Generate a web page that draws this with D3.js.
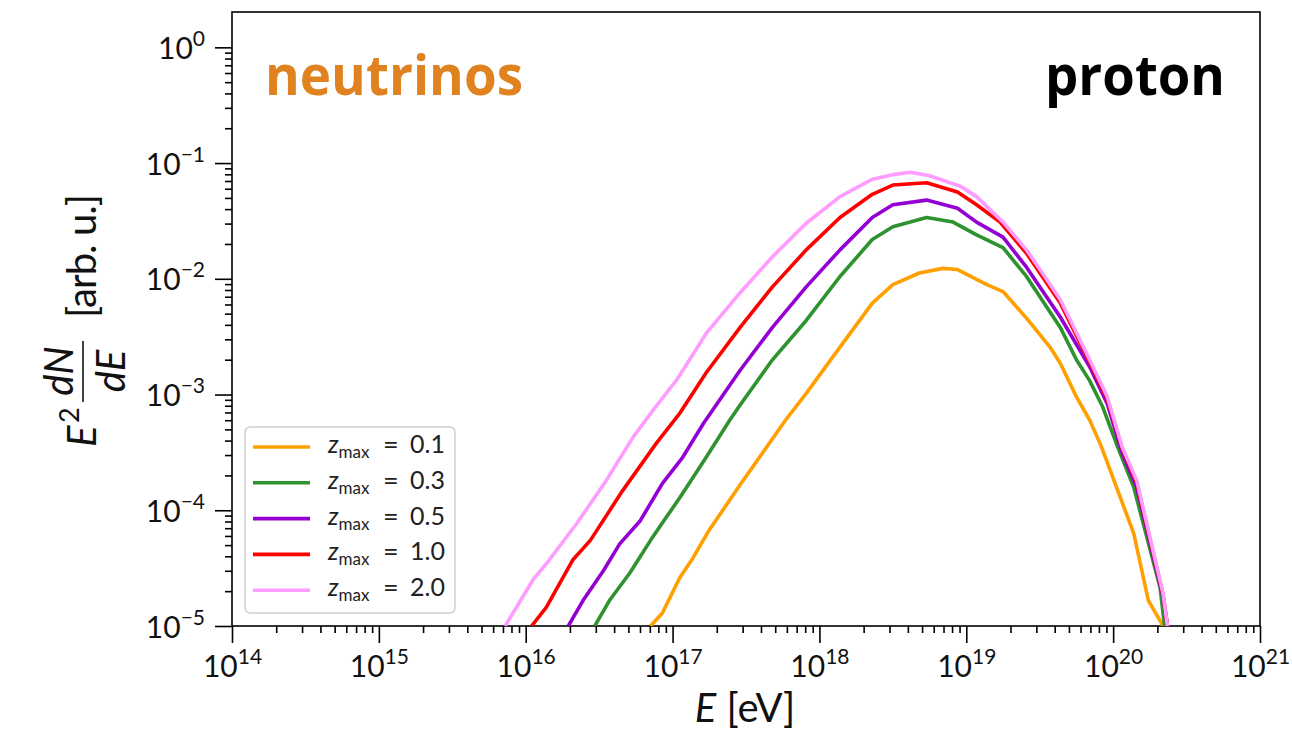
<!DOCTYPE html>
<html>
<head>
<meta charset="utf-8">
<script src="https://cdn.jsdelivr.net/npm/d3@7"></script>
<style>
  body { margin: 0; background: #fff; }
  svg { display: block; }
</style>
</head>
<body>
<div id="chart"></div>
<script>
// Values, stored as log10(E / eV) and log10(E^2 dN/dE)
const zLabels = ["0.1", "0.3", "0.5", "1.0", "2.0"];
const colors = ["#ffa000", "#2e922e", "#9400d3", "#ff0000", "#ff9cff"];

const logE_z01 = [16.85, 16.93, 17.05, 17.14, 17.25, 17.46, 17.77, 17.91, 18.14, 18.36, 18.50, 18.68, 18.84, 18.94, 19.14, 19.25, 19.41, 19.57, 19.64, 19.75, 19.84, 19.92, 20.14, 20.24, 20.34];
const logF_z01 = [-5.0, -4.89, -4.58, -4.41, -4.17, -3.78, -3.22, -2.99, -2.59, -2.21, -2.05, -1.95, -1.91, -1.92, -2.05, -2.11, -2.34, -2.59, -2.73, -3.02, -3.22, -3.45, -4.20, -4.78, -5.0];

const logE_z03 = [16.47, 16.57, 16.71, 16.85, 16.93, 17.05, 17.23, 17.39, 17.46, 17.68, 17.91, 18.14, 18.36, 18.50, 18.73, 18.91, 19.07, 19.25, 19.41, 19.64, 19.75, 19.84, 19.93, 20.03, 20.14, 20.32, 20.35];
const logF_z03 = [-5.0, -4.78, -4.54, -4.26, -4.11, -3.89, -3.54, -3.22, -3.09, -2.70, -2.36, -1.98, -1.66, -1.55, -1.47, -1.51, -1.62, -1.73, -1.98, -2.42, -2.70, -2.88, -3.11, -3.45, -3.80, -4.67, -5.0];

const logE_z05 = [16.29, 16.39, 16.53, 16.64, 16.78, 16.93, 17.07, 17.21, 17.46, 17.68, 17.91, 18.14, 18.36, 18.50, 18.73, 18.94, 19.07, 19.25, 19.41, 19.64, 19.84, 19.96, 20.06, 20.16, 20.34, 20.37];
const logF_z05 = [-5.0, -4.78, -4.52, -4.29, -4.09, -3.77, -3.54, -3.25, -2.79, -2.42, -2.07, -1.75, -1.47, -1.36, -1.32, -1.39, -1.51, -1.64, -1.90, -2.33, -2.76, -3.08, -3.50, -3.80, -4.75, -5.0];

const logE_z10 = [16.04, 16.14, 16.32, 16.44, 16.66, 16.89, 17.05, 17.23, 17.46, 17.68, 17.91, 18.14, 18.36, 18.50, 18.73, 18.94, 19.07, 19.23, 19.41, 19.64, 19.84, 19.96, 20.06, 20.16, 20.34, 20.37];
const logF_z10 = [-5.0, -4.84, -4.43, -4.26, -3.83, -3.42, -3.16, -2.81, -2.42, -2.07, -1.75, -1.47, -1.27, -1.19, -1.17, -1.25, -1.36, -1.51, -1.78, -2.21, -2.72, -3.04, -3.46, -3.76, -4.73, -5.0];

const logE_z20 = [15.86, 16.05, 16.16, 16.35, 16.55, 16.73, 16.87, 17.03, 17.23, 17.46, 17.68, 17.91, 18.14, 18.36, 18.50, 18.62, 18.75, 18.96, 19.07, 19.25, 19.41, 19.55, 19.64, 19.84, 19.96, 20.06, 20.16, 20.34, 20.37];
const logF_z20 = [-5.0, -4.60, -4.43, -4.11, -3.74, -3.37, -3.13, -2.87, -2.47, -2.12, -1.81, -1.52, -1.29, -1.14, -1.10, -1.08, -1.11, -1.20, -1.29, -1.51, -1.75, -2.01, -2.18, -2.70, -3.02, -3.45, -3.74, -4.72, -5.0];

const xDecades = [14, 15, 16, 17, 18, 19, 20, 21];
const yDecades = [-5, -4, -3, -2, -1, 0];

const seriesE = [logE_z01, logE_z03, logE_z05, logE_z10, logE_z20];
const seriesF = [logF_z01, logF_z03, logF_z05, logF_z10, logF_z20];

let series = zLabels.map((z, i) => ({
    z: z,
    color: colors[i],
    points: seriesE[i].map((e, j) => ({ E: Math.pow(10, e), F: Math.pow(10, seriesF[i][j]) }))
}));

let fullWidth = 1292, fullHeight = 736;
let margin = { top: 12, right: 32, bottom: 110, left: 232 };
let width = fullWidth - margin.left - margin.right;
let height = fullHeight - margin.top - margin.bottom;

const tickFont = "Lato, 'DejaVu Sans', sans-serif";

let svg = d3.select("#chart")
    .append("svg")
    .attr("width", fullWidth)
    .attr("height", fullHeight);

let chartGroup = svg.append("g")
    .attr("transform", `translate(${margin.left},${margin.top})`);

// thang đo log cho cả 2 trục
let x = d3.scaleLog().domain([1e14, 1e21]).range([0, width]);
let y = d3.scaleLog().domain([1e-5, 2.02]).range([height, 0]);

let expText = d => String(Math.round(Math.log10(d))).replace("-", "\u2212");

// minor ticks
let xMinor = [];
xDecades.slice(0, -1).forEach(k => { for (let m = 2; m <= 9; m++) xMinor.push(m * Math.pow(10, k)); });
let yMinor = [];
yDecades.forEach(k => { for (let m = 2; m <= 9; m++) { let v = m * Math.pow(10, k); if (v < 2.0) yMinor.push(v); } });

// trục X
let gx = chartGroup.append("g")
    .attr("transform", `translate(0,${height})`)
    .call(d3.axisBottom(x).tickValues(xDecades.map(k => Math.pow(10, k))).tickSize(17).tickFormat(""));
chartGroup.append("g")
    .attr("transform", `translate(0,${height})`)
    .call(d3.axisBottom(x).tickValues(xMinor).tickSize(7).tickFormat(""));

gx.selectAll(".tick").append("text")
    .attr("y", 51)
    .attr("text-anchor", "middle")
    .attr("fill", "#111")
    .style("font-family", tickFont)
    .style("font-size", "30px")
    .each(function(d) {
        let t = d3.select(this);
        t.append("tspan").text("10");
        t.append("tspan").attr("dy", -13).style("font-size", "21px").text(expText(d));
    });

// trục Y
let gy = chartGroup.append("g")
    .call(d3.axisLeft(y).tickValues(yDecades.map(k => Math.pow(10, k))).tickSize(17).tickFormat(""));
chartGroup.append("g")
    .call(d3.axisLeft(y).tickValues(yMinor).tickSize(7).tickFormat(""));

gy.selectAll(".tick").append("text")
    .attr("x", -27)
    .attr("y", 11)
    .attr("text-anchor", "end")
    .attr("fill", "#111")
    .style("font-family", tickFont)
    .style("font-size", "30px")
    .each(function(d) {
        let t = d3.select(this);
        t.append("tspan").text("10");
        t.append("tspan").attr("dy", -13).style("font-size", "21px").text(expText(d));
    });

chartGroup.selectAll(".tick line").attr("stroke", "#000").attr("stroke-width", 1.6);
chartGroup.selectAll(".domain").remove();

// khung
chartGroup.append("rect")
    .attr("width", width)
    .attr("height", height)
    .attr("fill", "none")
    .attr("stroke", "#000")
    .attr("stroke-width", 1.6);

// clip
svg.append("defs").append("clipPath").attr("id", "plotclip")
    .append("rect").attr("width", width).attr("height", height);

let line = d3.line()
    .x(d => x(d.E))
    .y(d => y(d.F));

chartGroup.append("g")
    .attr("clip-path", "url(#plotclip)")
    .selectAll(".curve")
    .data(series)
    .enter()
    .append("path")
    .attr("class", "curve")
    .attr("d", d => line(d.points))
    .attr("fill", "none")
    .attr("stroke", d => d.color)
    .attr("stroke-width", 3.6)
    .attr("stroke-linejoin", "round");

// legend
let legend = chartGroup.append("g").attr("transform", "translate(13,415)");
legend.append("rect")
    .attr("width", 210)
    .attr("height", 186)
    .attr("rx", 5)
    .attr("fill", "#fff")
    .attr("fill-opacity", 0.85)
    .attr("stroke", "#d0d0d0")
    .attr("stroke-width", 1.5);

let rows = legend.selectAll(".row")
    .data(series)
    .enter()
    .append("g")
    .attr("transform", (d, i) => `translate(0,${20 + i * 35.8})`);

rows.append("line")
    .attr("x1", 8).attr("x2", 65)
    .attr("stroke", d => d.color)
    .attr("stroke-width", 3.6);

let lt = rows.append("text")
    .attr("x", 83)
    .attr("y", 6)
    .attr("fill", "#222")
    .style("font-family", tickFont)
    .style("font-size", "25px");
lt.append("tspan").style("font-style", "italic").text("z");
lt.append("tspan").attr("dy", 5).style("font-size", "17px").text("max");
rows.append("text")
    .attr("x", 138)
    .attr("y", 7)
    .attr("fill", "#222")
    .style("font-family", tickFont)
    .style("font-size", "27px")
    .text("=");
rows.append("text")
    .attr("x", 165)
    .attr("y", 6)
    .attr("fill", "#222")
    .style("font-family", tickFont)
    .style("font-size", "25px")
    .text(d => d.z);

// nhãn trục X
let xl = svg.append("text")
    .attr("x", 745)
    .attr("y", 722)
    .attr("text-anchor", "middle")
    .attr("fill", "#111")
    .style("font-family", tickFont)
    .style("font-size", "40px");
xl.append("tspan").style("font-style", "italic").text("E");
xl.append("tspan").text(" [eV]");

// nhãn trục Y (xoay -90)
let yl = svg.append("g").attr("transform", "rotate(-90)")
    .attr("fill", "#111")
    .style("font-family", tickFont);
yl.append("text").attr("x", -447).attr("y", 96).style("font-size", "40px").style("font-style", "italic").text("E");
yl.append("text").attr("x", -423).attr("y", 79).style("font-size", "27px").text("2");
yl.append("line").attr("x1", -402).attr("x2", -341).attr("y1", 83).attr("y2", 83)
    .attr("stroke", "#111").attr("stroke-width", 1.6);
yl.append("text").attr("x", -371).attr("y", 73).attr("text-anchor", "middle")
    .style("font-size", "40px").style("font-style", "italic").text("dN");
yl.append("text").attr("x", -371).attr("y", 125).attr("text-anchor", "middle")
    .style("font-size", "40px").style("font-style", "italic").text("dE");
yl.append("text").attr("x", -318).attr("y", 96).style("font-size", "40px")
    .attr("textLength", 124).attr("lengthAdjust", "spacing").text("[arb. u.]");

// chữ trong khung
svg.append("text")
    .attr("x", 265).attr("y", 95)
    .attr("fill", "#e0821f")
    .style("font-family", "'Open Sans', sans-serif")
    .style("font-weight", "bold")
    .style("font-size", "56px")
    .attr("textLength", 258)
    .attr("lengthAdjust", "spacingAndGlyphs")
    .text("neutrinos");
svg.append("text")
    .attr("x", 1045).attr("y", 95)
    .attr("fill", "#000")
    .style("font-family", "'Open Sans', sans-serif")
    .style("font-weight", "bold")
    .style("font-size", "56px")
    .attr("textLength", 180)
    .attr("lengthAdjust", "spacingAndGlyphs")
    .text("proton");
</script>
</body>
</html>
